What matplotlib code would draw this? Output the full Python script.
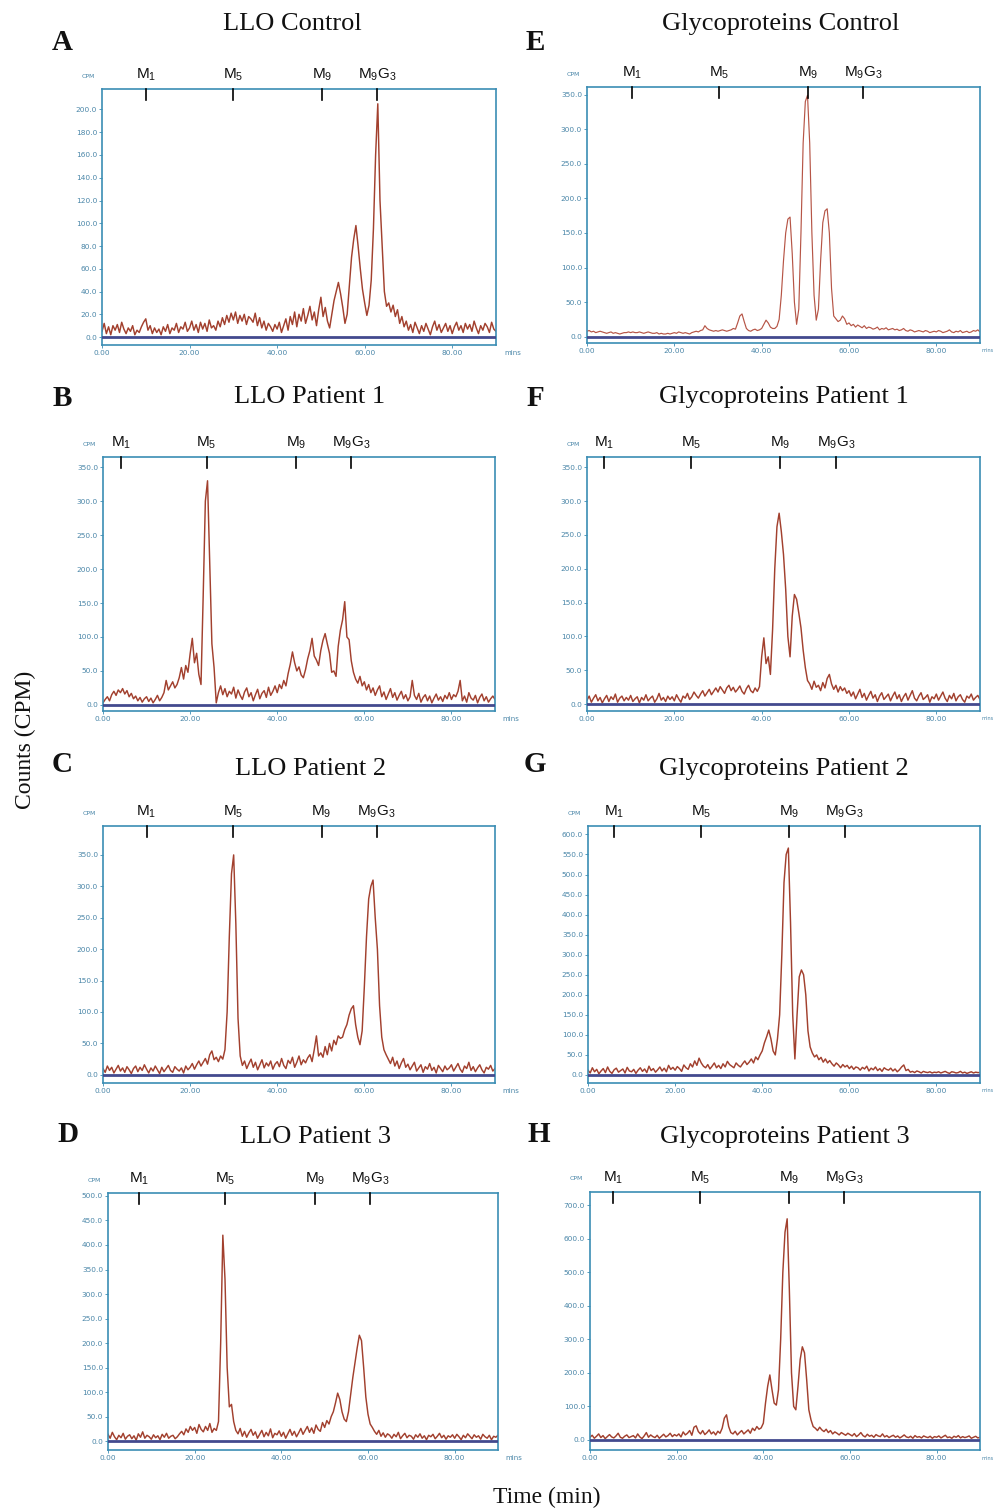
import numpy as np
import matplotlib
matplotlib.use('Agg')
import matplotlib.pyplot as plt
from matplotlib.ticker import FormatStrFormatter, FixedLocator
import matplotlib.transforms as mtransforms

plt.rcParams['mathtext.fontset'] = 'custom'
plt.rcParams['mathtext.rm'] = 'Liberation Sans'
plt.rcParams['mathtext.it'] = 'Liberation Sans'

# ---------------- data ----------------
time_min = np.arange(0, 90.5, 0.5)  # sampling grid (min)

llo_control = [
    5,12,3,9,2,10,6,11,4,13,7,3,8,5,10,2,6,4,9,13,
    16,6,10,3,8,4,7,2,9,5,11,3,8,6,12,4,9,7,13,5,
    8,14,6,11,4,13,7,12,5,15,8,10,6,14,9,17,11,19,13,21,
    15,22,12,19,14,20,11,18,16,13,21,10,17,8,14,6,12,9,5,11,
    7,13,4,10,16,6,18,11,22,9,20,14,25,12,19,27,15,22,10,24,
    35,18,26,14,8,20,32,40,48,38,26,12,20,45,70,86,98,80,60,42,
    30,19,28,50,95,160,205,120,80,40,27,30,22,28,18,24,12,18,9,14,
    6,11,4,13,8,3,10,5,12,7,2,9,14,6,11,4,8,12,5,10,
    3,9,13,6,10,4,12,7,11,5,14,8,3,10,6,12,9,4,13,7,
    5]

llo_patient1 = [
    3,8,12,6,15,20,14,22,18,24,16,21,12,17,9,13,6,11,4,9,
    12,5,10,3,8,14,6,11,18,36,22,28,34,25,30,40,55,38,58,48,
    75,98,62,76,45,30,160,300,330,210,90,55,3,18,28,15,24,12,20,16,
    26,10,22,14,8,19,25,12,18,6,15,23,9,17,21,11,26,14,20,28,
    18,30,24,36,28,46,60,78,62,50,56,44,40,52,68,80,98,72,66,58,
    80,95,105,90,76,48,50,42,86,110,125,152,100,96,65,48,38,32,42,28,
    34,22,30,18,25,14,22,28,12,19,8,16,24,11,18,7,14,20,9,15,
    6,12,36,14,8,17,4,11,15,6,13,3,10,16,7,12,5,14,9,18,
    8,15,12,20,36,6,13,4,18,10,7,14,3,11,16,6,12,4,9,13,
    8]

llo_patient2 = [
    10,4,14,7,12,3,9,15,6,11,4,13,8,2,10,14,5,12,7,16,
    9,3,11,6,14,8,2,12,5,10,15,7,4,13,9,6,11,3,14,8,
    12,18,9,16,22,14,20,26,17,32,38,24,28,21,30,25,40,100,220,320,
    350,240,90,30,15,22,10,18,25,12,20,8,16,24,11,19,14,22,9,17,
    21,13,26,15,10,23,18,28,12,20,30,16,24,19,27,32,21,40,62,30,
    35,28,45,32,50,38,55,48,62,58,60,72,80,95,105,110,80,60,48,70,
    140,220,280,300,310,250,200,110,60,40,32,25,18,28,14,22,10,19,26,12,
    17,8,14,20,6,11,16,4,13,9,18,7,12,3,15,10,5,14,8,11,
    16,6,12,18,9,4,14,10,20,7,13,5,11,16,8,3,12,9,15,6,
    10]

llo_patient3 = [
    14,6,18,9,3,12,7,16,4,10,13,5,11,2,15,8,19,6,12,9,
    4,13,7,11,3,14,8,16,6,10,12,5,9,15,20,13,25,18,30,22,
    28,16,34,24,19,30,22,36,18,26,22,40,200,420,330,150,70,75,40,22,
    15,26,10,20,8,17,24,12,19,6,14,22,9,18,11,25,7,16,13,21,
    10,18,6,15,24,12,20,9,17,26,14,22,30,18,27,16,33,24,20,38,
    28,42,35,50,60,78,98,85,60,45,40,60,95,130,160,190,216,205,150,90,
    55,35,28,20,14,22,10,17,8,15,12,6,14,9,18,5,11,16,7,12,
    10,4,13,8,15,6,11,3,12,9,14,5,10,16,7,12,4,11,8,13,
    6,14,9,3,12,7,15,10,5,13,8,11,4,14,9,6,12,3,10,8,
    12]

glyco_control = [
    8,9,7,8,6,7,8,7,6,5,6,7,5,6,5,4,5,6,6,7,
    6,7,6,6,7,6,5,6,7,6,5,5,6,4,5,4,4,5,4,5,
    6,5,7,6,5,6,5,4,6,7,8,7,9,10,16,12,10,9,8,9,
    8,9,10,9,8,9,10,12,11,20,30,33,22,12,9,8,10,11,9,10,
    12,18,24,20,14,12,12,15,25,60,110,150,170,173,120,50,18,40,150,280,
    340,349,280,150,60,24,40,110,165,182,185,150,70,30,26,22,24,30,26,18,
    20,16,18,14,17,15,13,16,12,14,13,11,12,14,10,12,11,13,10,11,
    12,10,11,9,10,12,9,8,10,9,7,8,9,8,7,9,8,6,7,8,
    7,9,8,6,7,8,10,7,6,8,7,9,6,7,8,6,7,9,8,10,
    7]

glyco_patient1 = [
    6,12,3,9,14,5,10,2,8,13,4,11,7,15,3,9,12,5,10,6,
    13,4,8,11,2,10,6,14,5,9,12,3,8,16,6,10,4,12,7,11,
    5,14,8,3,12,9,16,7,11,18,13,9,15,20,12,17,22,14,19,24,
    18,26,21,16,24,28,20,25,18,22,27,19,15,23,28,20,17,24,19,26,
    70,98,60,70,44,110,200,262,282,255,221,170,100,70,130,162,155,135,113,80,
    54,35,30,22,34,25,28,20,32,24,38,44,30,22,28,18,26,20,24,16,
    20,12,18,8,15,22,10,16,6,13,19,9,14,4,12,17,7,11,15,5,
    12,18,8,14,4,11,16,6,13,20,9,5,12,17,7,10,14,3,11,8,
    15,6,12,18,9,4,13,8,16,5,11,14,7,3,12,9,15,6,10,13,
    7]

glyco_patient2 = [
    12,5,18,8,14,3,10,16,6,20,9,4,13,17,7,11,15,5,19,10,
    8,14,4,12,18,9,15,6,22,11,16,7,13,20,10,17,8,24,14,19,
    12,21,16,9,25,18,14,28,20,35,24,42,30,22,18,26,15,22,30,18,
    24,16,28,20,34,26,22,18,30,24,20,28,35,26,32,40,30,45,38,50,
    60,80,95,112,90,60,50,90,150,300,480,550,566,380,150,40,150,245,262,250,
    200,110,70,55,45,50,38,44,32,40,30,36,28,22,30,25,18,26,20,24,
    16,22,14,20,18,12,19,15,22,10,17,13,20,11,16,9,18,14,12,17,
    10,15,8,13,20,25,11,14,7,9,6,10,8,5,9,7,6,8,5,7,
    6,8,5,7,9,6,4,8,7,5,6,9,5,7,4,6,8,5,7,6,
    6]

glyco_patient3 = [
    8,14,5,11,18,7,13,4,10,16,9,6,12,20,8,5,11,15,7,10,
    13,6,18,9,4,12,22,8,15,10,7,14,5,11,17,9,13,20,10,16,
    12,18,9,24,15,20,28,14,38,42,25,18,28,16,22,30,18,24,15,26,
    20,35,65,75,40,22,18,26,15,22,28,18,24,30,20,35,28,40,32,36,
    50,110,160,194,150,110,104,150,300,500,620,660,450,200,100,90,160,240,278,260,
    180,90,60,40,35,28,38,30,25,32,22,28,18,24,20,15,22,18,14,20,
    16,12,19,10,15,22,13,9,17,11,14,8,16,12,10,18,9,13,7,11,
    14,8,12,6,10,15,9,7,11,5,13,8,10,6,12,9,7,11,5,10,
    8,12,6,10,14,7,9,5,11,8,13,6,10,7,9,12,5,8,11,6,
    8]

marker_names = [r'M$_1$', r'M$_5$', r'M$_9$', r'M$_9$G$_3$']
markers_A = [10.0, 29.9, 50.3, 62.9]
markers_B = [4.1, 23.8, 44.4, 57.0]
markers_C = [10.0, 29.8, 50.2, 62.8]
markers_D = [7.1, 27.1, 47.8, 60.5]
markers_E = [10.3, 30.3, 50.7, 63.3]
markers_F = [3.9, 23.9, 44.3, 57.1]
markers_G = [6.0, 25.9, 46.1, 58.9]
markers_H = [5.3, 25.4, 46.0, 58.7]

titles = ['LLO Control', 'LLO Patient 1', 'LLO Patient 2', 'LLO Patient 3',
          'Glycoproteins Control', 'Glycoproteins Patient 1',
          'Glycoproteins Patient 2', 'Glycoproteins Patient 3']
letters = ['A', 'B', 'C', 'D', 'E', 'F', 'G', 'H']
series = [llo_control, llo_patient1, llo_patient2, llo_patient3,
          glyco_control, glyco_patient1, glyco_patient2, glyco_patient3]
markers = [markers_A, markers_B, markers_C, markers_D,
           markers_E, markers_F, markers_G, markers_H]
y_top_ticks = [200, 350, 350, 500, 350, 350, 600, 700]
y_steps = [20, 50, 50, 50, 50, 50, 50, 100]
x_ticks = [0, 20, 40, 60, 80]

# ---------------- layout (pixels) ----------------
W, H = 994, 1511
boxes = [(102, 89, 496, 345), (103, 457, 495, 711), (103, 826, 495, 1083), (108, 1193, 498, 1450),
         (587, 87, 980, 343), (587, 457, 980, 711), (588, 826, 980, 1083), (590, 1192, 980, 1450)]
ylims = [(-7, 218), (-9, 365), (-13, 396), (-18, 506), (-9, 361), (-10, 365), (-20, 621), (-30, 740)]
title_xy = [(292, 24), (310, 397), (311, 769), (315, 1137),
            (781, 24), (784, 397), (784, 769), (785, 1137)]
letter_xy = [(62, 42), (62, 398), (62, 765), (68, 1135),
             (535, 42), (535, 398), (535, 765), (539, 1135)]

spine_col = '#3b8db4'
lab_col = '#4a86a8'
trace_col = '#a2402e'

fig = plt.figure(figsize=(W / 100, H / 100), dpi=100)


def fx(x):
    return x / W


def fy(y):
    return 1 - y / H


for i in range(8):
    l, t, r, b = boxes[i]
    ax = fig.add_axes([l / W, 1 - b / H, (r - l) / W, (b - t) / H])
    bh = b - t
    if i == 4:
        ax.plot(time_min, series[i], color='#b65546', lw=0.85, zorder=2)
    else:
        ax.plot(time_min, series[i], color=trace_col, lw=1.05, zorder=2)
    ax.axhline(0, color='#434a8e', lw=2.0, zorder=3)
    ax.set_xlim(0, 90)
    ax.set_ylim(*ylims[i])
    ax.xaxis.set_major_locator(FixedLocator(x_ticks))
    ax.yaxis.set_major_locator(FixedLocator(np.arange(0, y_top_ticks[i] + 1, y_steps[i])))
    ax.xaxis.set_major_formatter(FormatStrFormatter('%.2f'))
    ax.yaxis.set_major_formatter(FormatStrFormatter('%.1f'))
    ax.tick_params(axis='both', colors=spine_col, labelcolor=lab_col, labelsize=5.3,
                   length=2.5, width=0.6, direction='out', pad=1)
    for s in ax.spines.values():
        s.set_color(spine_col)
        s.set_linewidth(1.2)
    trans = mtransforms.blended_transform_factory(ax.transData, ax.transAxes)
    for name, pos in zip(marker_names, markers[i]):
        ax.plot([pos, pos], [1.0, 1 - 11 / bh], transform=trans, color='black',
                lw=1.2, clip_on=False, zorder=4)
        ax.text(pos, 1 + 14 / bh, name, transform=trans, ha='center', va='center',
                fontsize=11, family='Liberation Sans', color='#111111')
    ax.text(-0.035, 1 + 13 / bh, 'CPM', transform=ax.transAxes, ha='center', va='center',
            fontsize=4.5, color=lab_col)
    if i < 4:
        ax.text(1.02, -8 / bh, 'mins', transform=ax.transAxes, ha='left', va='center',
                fontsize=5, color=lab_col)
    else:
        fig.text(fx(981), fy(b + 8), 'mins', ha='left', va='center',
                 fontsize=3.6, color=lab_col)
    fig.text(fx(title_xy[i][0]), fy(title_xy[i][1]), titles[i], ha='center', va='center',
             fontsize=19, family='Liberation Serif', color='#111111')
    fig.text(fx(letter_xy[i][0]), fy(letter_xy[i][1]), letters[i], ha='center', va='center',
             fontsize=21, family='Liberation Serif', fontweight='bold', color='#111111')

fig.text(fx(25), fy(740), 'Counts (CPM)', rotation=90, ha='center', va='center',
         fontsize=17, family='Liberation Serif', color='#111111')
fig.text(fx(547), fy(1497), 'Time (min)', ha='center', va='center',
         fontsize=17, family='Liberation Serif', color='#111111')

fig.savefig('out.png', dpi=100)
